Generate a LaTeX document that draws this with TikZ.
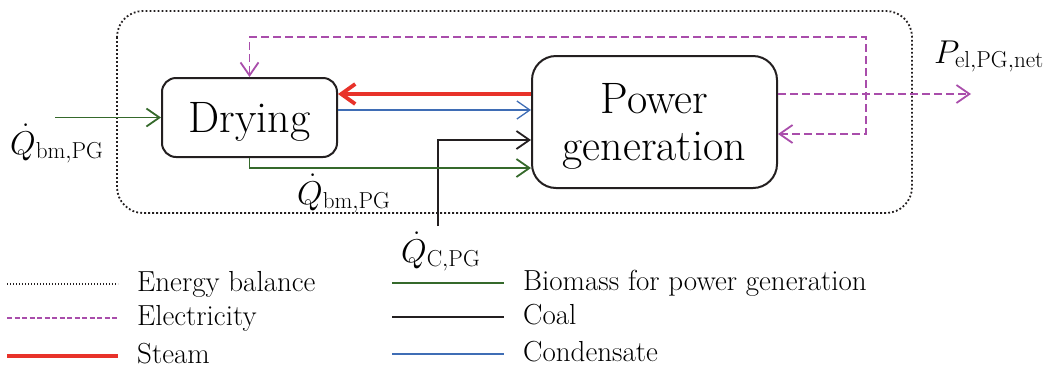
\RequirePackage{fix-cm}
\documentclass[tikz,border=0pt]{standalone}
\usepackage{tikz}
\usetikzlibrary{arrows.meta,positioning}
\definecolor{bio}{HTML}{35692B}
\definecolor{steam}{HTML}{E8322A}
\definecolor{cond}{HTML}{3F6DB5}
\definecolor{coal}{HTML}{231F20}
\definecolor{elec}{HTML}{A94DAB}
\tikzset{
  unit/.style={draw=coal,line width=2pt,inner sep=0pt,align=center,text depth=0pt,font=\fontsize{44}{47}\selectfont},
  flow/.style={line width=1.8pt,->},
  bioflow/.style={flow,draw=bio},
  condflow/.style={flow,draw=cond,line width=1.3pt},
  coalflow/.style={flow,draw=coal},
  steamflow/.style={draw=steam,line width=3.8pt,-{Straight Barb[length=14pt,width=20pt]}},
  elecflow/.style={flow,draw=elec,dash pattern=on 8pt off 4pt},
  balance/.style={draw=coal,line width=1.8pt,dash pattern=on 1.8pt off 2.2pt},
  lbl/.style={font=\fontsize{33}{38}\selectfont,anchor=base west,inner sep=0pt},
  leg/.style={font=\fontsize{29}{32}\selectfont,anchor=base west,inner sep=0pt},
  >={Straight Barb[length=13pt,width=18pt]}
}
\begin{document}
\begin{tikzpicture}[x=1pt,y=-1pt]
  \useasboundingbox (0,0) rectangle (1053,368);

  % energy balance
  \draw[balance,rounded corners=26pt] (117,11) rectangle (912,213);

  % units
  \node[unit,minimum width=175,minimum height=79,rounded corners=14pt] (dry) at (249.5,117.5) {Drying};
  \node[unit,minimum width=245,minimum height=132,rounded corners=24pt] (pg) at (654.5,122) {Power\\generation};

  % streams
  \coordinate (bmin) at (55,117.5);
  \draw[bioflow] (bmin) -- (dry.west);
  \draw[steamflow] (pg.west |- 0,94) -- (dry.east |- 0,94);
  \draw[condflow] (dry.east |- 0,110) -- (pg.west |- 0,110);
  \coordinate (coalin) at (438,226);
  \draw[coalflow] (coalin) |- (pg.west |- 0,140);
  \draw[bioflow] (dry.south) |- (pg.west |- 0,168);
  \coordinate (pout) at (971,94);
  \draw[elecflow] (pg.east |- 0,94) -- (pout);
  \coordinate (eloop) at (866,37);
  \draw[elecflow,<->] (pg.east |- 0,134) -| (eloop) -| (dry.north);

  % labels
  \node[lbl] (qbmin) at (10,154) {$\dot{Q}_{\mathrm{bm,PG}}$};
  \node[lbl] (qbm) at (297,204) {$\dot{Q}_{\mathrm{bm,PG}}$};
  \node[lbl] (qc) at (401,262) {$\dot{Q}_{\mathrm{C,PG}}$};
  \node[lbl] (pel) at (934,63) {$P_{\mathrm{el,PG,net}}$};

  % legend
  \draw[draw=coal,line width=1.3pt,dash pattern=on 1.3pt off 1.7pt] (7,284) -- (118,284);
  \node[leg] (lgbal) at (137,291) {Energy balance};
  \draw[draw=elec,line width=1.5pt,dash pattern=on 5pt off 2.5pt] (7,318) -- (118,318);
  \node[leg] (lgel) at (137,325) {Electricity};
  \draw[draw=steam,line width=3.5pt] (7,356) -- (118,356);
  \node[leg] (lgst) at (137,363) {Steam};
  \draw[draw=bio,line width=1.8pt] (392,283) -- (504,283);
  \node[leg] (lgbio) at (523,290) {Biomass for power generation};
  \draw[draw=coal,line width=1.8pt] (392,317) -- (504,317);
  \node[leg] (lgcoal) at (523,324) {Coal};
  \draw[draw=cond,line width=1.3pt] (392,354) -- (504,354);
  \node[leg] (lgcond) at (523,361) {Condensate};
\end{tikzpicture}
\end{document}
